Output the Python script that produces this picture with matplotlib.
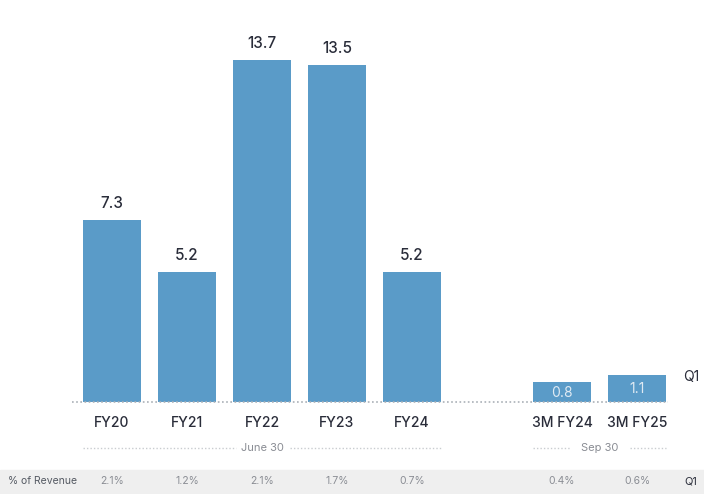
import matplotlib.pyplot as plt
import matplotlib.transforms as mtransforms
from matplotlib.patches import Rectangle

categories = ['FY20', 'FY21', 'FY22', 'FY23', 'FY24', '3M FY24', '3M FY25']
positions = [0, 1, 2, 3, 4, 6, 7]
values = [7.3, 5.2, 13.7, 13.5, 5.2, 0.8, 1.1]
pct_revenue = ['2.1%', '1.2%', '2.1%', '1.7%', '0.7%', '0.4%', '0.6%']

bar_color = '#5a9bc8'
dark = '#2a2d3a'
grey = '#8a8d94'
W, H = 704, 494

plt.rcParams['font.family'] = ['Inter', 'DejaVu Sans']
fig = plt.figure(figsize=(W / 100, H / 100), dpi=100)
ax = fig.add_axes([0, 92 / H, 1, 402 / H])
ax.set_xlim(-112 / 75, (W - 112) / 75)
ax.set_ylim(0, 402 / 24.96)
ax.axis('off')

bars = ax.bar(positions, values, width=0.773, color=bar_color, zorder=2)

for x, v in zip(positions, values):
    if v < 2:
        ax.text(x, v / 2 - 0.03, f'{v}', ha='center', va='center', color='#dfeaf3', fontsize=10)
    else:
        ax.text(x, v + 0.35, f'{v}', ha='center', va='bottom', color=dark, fontsize=11,
                fontweight='medium')

# dotted baseline
ax.plot([-0.533, 7.413], [0, 0], color='#aab0b7', lw=1.2, ls=(0, (1, 1.5)), zorder=3,
        clip_on=False)

tr = mtransforms.blended_transform_factory(ax.transData, fig.transFigure)

def fy(ypx):
    return 1 - ypx / H

for x, c in zip(positions, categories):
    ax.text(x, fy(423), c, transform=tr, ha='center', va='center', color=dark, fontsize=10,
            fontweight='medium')

# period labels with dotted lines
ax.text(2.0, fy(448), 'June 30', transform=tr, ha='center', va='center', color=grey, fontsize=8)
ax.text(6.5, fy(448), 'Sep 30', transform=tr, ha='center', va='center', color=grey, fontsize=8)
for x0, x1 in [(-0.387, 1.65), (2.37, 4.387), (5.613, 6.107), (6.907, 7.387)]:
    ax.plot([x0, x1], [fy(448)] * 2, transform=tr, color='#c9ccd0', lw=1,
            ls=(0, (1, 1.5)), clip_on=False)

# % of revenue band
fig.patches.append(Rectangle((0, fy(493)), 1, (493 - 470) / H, transform=fig.transFigure,
                             color='#efefef', zorder=-5))
fig.text(8 / W, fy(481), '% of Revenue', ha='left', va='center', color='#555a63', fontsize=7.5)
for x, p in zip(positions, pct_revenue):
    ax.text(x, fy(481), p, transform=tr, ha='center', va='center', color=grey, fontsize=7.5)
fig.text(691 / W, fy(481), 'Q1', ha='center', va='center', color=dark, fontsize=8)
fig.text(691 / W, fy(377), 'Q1', ha='center', va='center', color=dark, fontsize=10)

fig.savefig('out.png', dpi=100)
